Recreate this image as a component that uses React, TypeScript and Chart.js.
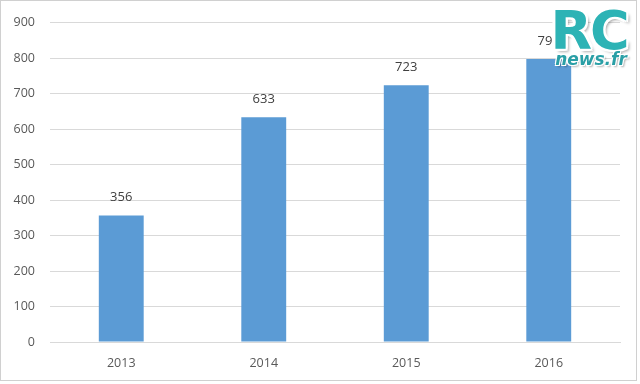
import React, { useEffect, useRef } from "react";
import { Chart, registerables } from "chart.js";

Chart.register(...registerables);

const categories = ["2013", "2014", "2015", "2016"];
const values = [356, 633, 723, 797];
const valueLabels = ["356", "633", "723", "797"];
const yTicks = [0, 100, 200, 300, 400, 500, 600, 700, 800, 900];

const FONT = "'Open Sans', 'Liberation Sans', sans-serif";

const labelPlugin = {
  id: "barLabels",
  afterDatasetsDraw(chart: any) {
    const ctx = chart.ctx;
    const meta = chart.getDatasetMeta(0);
    ctx.save();
    ctx.font = `13px ${FONT}`;
    ctx.fillStyle = "#404040";
    ctx.textAlign = "center";
    ctx.textBaseline = "middle";
    meta.data.forEach((bar: any, i: number) => {
      ctx.fillText(valueLabels[i], bar.x, bar.y - 18);
    });
    ctx.restore();
  },
};

export default function App() {
  const ref = useRef<HTMLCanvasElement | null>(null);
  useEffect(() => {
    document.body.style.margin = "0";
    const chart = new Chart(ref.current as HTMLCanvasElement, {
      type: "bar",
      data: {
        labels: categories,
        datasets: [
          {
            data: values,
            backgroundColor: "#5b9bd5",
            barPercentage: 0.315,
            categoryPercentage: 1,
          },
        ],
      },
      options: {
        animation: false,
        responsive: false,
        maintainAspectRatio: false,
        layout: { padding: { left: 0, right: 20, top: 20, bottom: 0 } },
        plugins: { legend: { display: false }, tooltip: { enabled: false } },
        scales: {
          x: {
            grid: { display: false },
            border: { display: true, color: "#d9d9d9" },
            ticks: { color: "#595959", font: { family: FONT, size: 12.5 }, padding: 6 },
            afterFit: (s: any) => {
              s.height = 42;
            },
          },
          y: {
            min: 0,
            max: 900,
            afterBuildTicks: (s: any) => {
              s.ticks = yTicks.map((v) => ({ value: v }));
            },
            grid: { color: "#d9d9d9", drawTicks: false },
            border: { display: false },
            ticks: { color: "#595959", font: { family: FONT, size: 12.5 }, padding: 15 },
            afterFit: (s: any) => {
              s.width = 50;
            },
          },
        },
      },
      plugins: [labelPlugin],
    });
    return () => chart.destroy();
  }, []);

  const outline =
    "-2px -2px 0 #fff, 2px -2px 0 #fff, -2px 2px 0 #fff, 2px 2px 0 #fff, 0 2px 0 #fff, 0 -2px 0 #fff, 2px 0 0 #fff, -2px 0 0 #fff, -3px 0 0 #fff, 3px 3px 3px rgba(0,0,0,0.35)";
  const outlineSmall =
    "-1px -1px 0 #fff, 1px -1px 0 #fff, -1px 1px 0 #fff, 1px 1px 0 #fff, 2px 2px 2px rgba(0,0,0,0.3)";

  return (
    <div
      style={{
        position: "absolute",
        left: 0,
        top: 0,
        width: 640,
        height: 384,
        background: "#fff",
      }}
    >
      <canvas ref={ref} width={640} height={384} style={{ display: "block" }} />
      <div
        style={{
          position: "absolute",
          left: 0,
          top: 0,
          width: 637,
          height: 381,
          border: "1px solid #d0d0d0",
          boxSizing: "border-box",
          pointerEvents: "none",
        }}
      />
      <div
        style={{
          position: "absolute",
          left: 546,
          top: 4,
          width: 86,
          textAlign: "center",
          fontFamily: "'DejaVu Sans', sans-serif",
          fontWeight: 700,
          fontSize: 54,
          lineHeight: "54px",
          color: "#2db3b5",
          letterSpacing: -2,
          textShadow: outline,
        }}
      >
        RC
      </div>
      <div
        style={{
          position: "absolute",
          left: 552,
          top: 50,
          width: 78,
          textAlign: "center",
          fontFamily: "'DejaVu Sans', sans-serif",
          fontWeight: 700,
          fontStyle: "italic",
          fontSize: 17,
          lineHeight: "19px",
          color: "#2a9fa6",
          textShadow: outlineSmall,
        }}
      >
        news.fr
      </div>
    </div>
  );
}
